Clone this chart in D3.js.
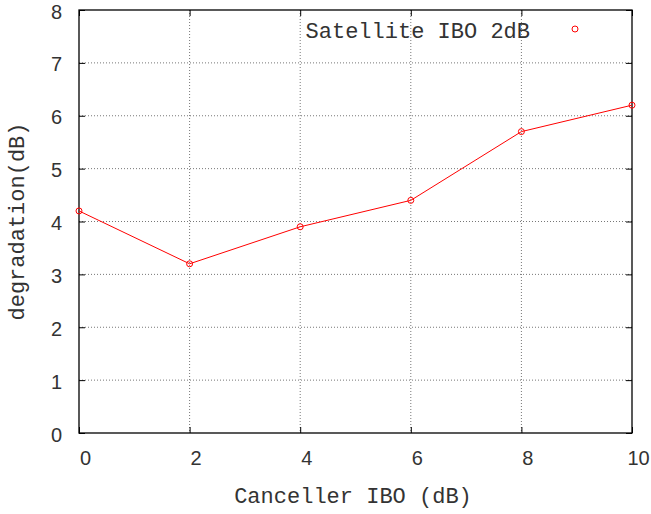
<!DOCTYPE html>
<html>
<head>
<meta charset="utf-8">
<script src="https://cdn.jsdelivr.net/npm/d3@7"></script>
<style>
  body { margin: 0; background: #fff; }
  .tick text { font-family: "Liberation Sans", sans-serif; font-size: 20px; fill: #333; }
  .grid line { stroke: #777; stroke-dasharray: 1,2; }
  .mono { font-family: "Liberation Mono", monospace; font-size: 22px; fill: #333; }
</style>
</head>
<body>
<script>
const canceller = [0, 2, 4, 6, 8, 10];
const degradation = [4.2, 3.2, 3.9, 4.4, 5.7, 6.2];
const xTicks = [0, 2, 4, 6, 8, 10];
const yTicks = [0, 1, 2, 3, 4, 5, 6, 7, 8];
const seriesName = 'Satellite IBO 2dB';

const W = 651, H = 514;
const margin = {top: 10, right: 19, bottom: 81, left: 79};
const width = W - margin.left - margin.right;
const height = H - margin.top - margin.bottom;

const svg = d3.select('body').append('svg')
    .attr('width', W).attr('height', H);
const g = svg.append('g')
    .attr('transform', 'translate(' + margin.left + ',' + margin.top + ')');

const x = d3.scaleLinear().domain([0, 10]).range([0, width]);
const y = d3.scaleLinear().domain([0, 8]).range([height, 0]);

// grid
g.append('g').attr('class', 'grid')
  .selectAll('line').data(yTicks.slice(1, -1)).enter().append('line')
    .attr('x1', 0).attr('x2', width)
    .attr('y1', d => y(d)).attr('y2', d => y(d));
g.append('g').attr('class', 'grid')
  .selectAll('line').data(xTicks.slice(1, -1)).enter().append('line')
    .attr('y1', 0).attr('y2', height)
    .attr('x1', d => x(d)).attr('x2', d => x(d));

// axes (ticks inward, mirrored)
const xAxis = g.append('g')
    .attr('transform', 'translate(0,' + height + ')')
    .call(d3.axisBottom(x).tickValues(xTicks).tickSize(-6).tickPadding(18));
xAxis.selectAll('.tick text').attr('dx', 6);
const yAxis = g.append('g')
    .call(d3.axisLeft(y).tickValues(yTicks).tickSize(-6).tickPadding(17));
yAxis.selectAll('.tick text').attr('dy', '0.4em');
g.append('g')
    .call(d3.axisTop(x).tickValues(xTicks).tickSize(-6).tickFormat(''));
g.append('g')
    .attr('transform', 'translate(' + width + ',0)')
    .call(d3.axisRight(y).tickValues(yTicks).tickSize(-6).tickFormat(''));
g.selectAll('.domain').remove();
g.selectAll('.tick line').attr('stroke', '#000');

g.append('rect')
    .attr('width', width).attr('height', height)
    .attr('fill', 'none').attr('stroke', '#000').attr('stroke-width', 1.3);

// series
const pts = canceller.map((c, i) => ({x: c, y: degradation[i]}));
g.append('path')
    .datum(pts)
    .attr('fill', 'none')
    .attr('stroke', '#f00')
    .attr('stroke-width', 1)
    .attr('d', d3.line().x(d => x(d.x)).y(d => y(d.y)));
g.selectAll('.pt').data(pts).enter().append('circle')
    .attr('class', 'pt')
    .attr('cx', d => x(d.x)).attr('cy', d => y(d.y))
    .attr('r', 3).attr('fill', 'none').attr('stroke', '#f00');

// legend
g.append('text')
    .attr('class', 'mono')
    .attr('x', 451).attr('y', 28)
    .attr('text-anchor', 'end')
    .text(seriesName);
g.append('circle')
    .attr('cx', 496).attr('cy', 19)
    .attr('r', 3).attr('fill', 'none').attr('stroke', '#f00');

// axis labels
svg.append('text')
    .attr('class', 'mono')
    .attr('x', 353).attr('y', 503)
    .attr('text-anchor', 'middle')
    .text('Canceller IBO (dB)');
svg.append('text')
    .attr('class', 'mono')
    .attr('transform', 'translate(24,' + (margin.top + height / 2) + ') rotate(-90)')
    .attr('text-anchor', 'middle')
    .text('degradation(dB)');
</script>
</body>
</html>
